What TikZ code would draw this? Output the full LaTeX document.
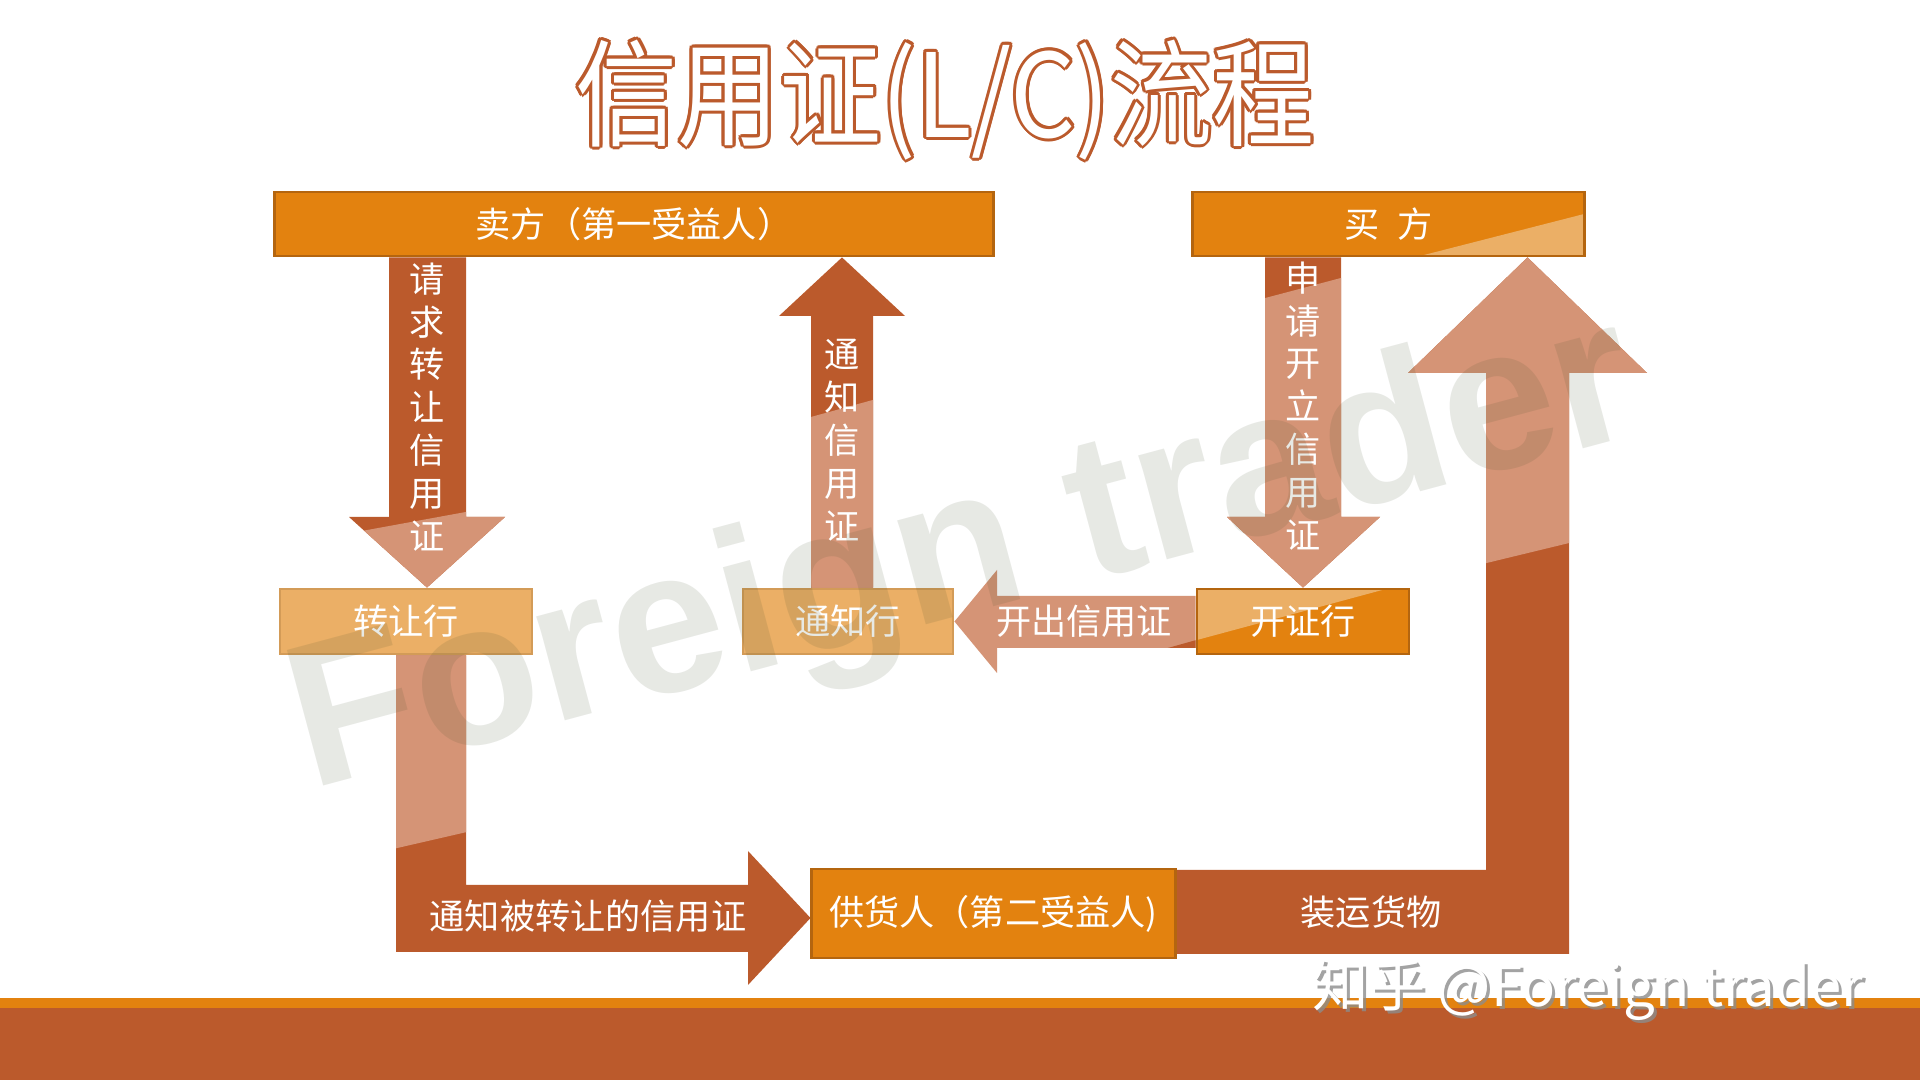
\documentclass[tikz,border=0pt]{standalone}
\usepackage{fontspec}
\newfontfamily\cjk{Noto Sans CJK SC}
\newfontfamily\cjktitle[FakeStretch=0.88]{Noto Sans CJK SC}
\newfontfamily\markfont{Liberation Sans}
\usetikzlibrary{calc,backgrounds}
\definecolor{rust}{HTML}{BB5A2C}
\definecolor{amber}{HTML}{E3820F}
\definecolor{sand}{HTML}{EBAF66}
\definecolor{salmon}{HTML}{D59476}
\definecolor{amberline}{HTML}{B4650F}
\definecolor{sandline}{HTML}{D39B57}
\definecolor{markgray}{RGB}{60,75,40}
\newcommand{\lcfont}{\fontsize{10pt}{12.2pt}\selectfont\cjk}
\tikzset{%
	party/.style     = {draw=amberline, line width=0.8pt, fill=amber, rectangle,
		inner sep=0pt, text=white, font=\lcfont},
	bank/.style      = {draw=sandline, line width=0.8pt, fill=sand, rectangle,
		inner sep=0pt, text=white, font=\lcfont},
	darkarrow/.style = {fill=rust},
	lightarrow/.style= {fill=salmon},
	lbl/.style       = {text=white, font=\lcfont, align=center, inner sep=0pt},
	titletext/.style = {font=\fontsize{33pt}{36pt}\selectfont\cjktitle, inner sep=0pt},
	markbig/.style   = {font=\fontsize{58pt}{64pt}\selectfont\markfont\bfseries,
		text=markgray, text opacity=0.12, inner sep=0pt},
	zhmark/.style    = {font=\fontsize{16pt}{19pt}\selectfont\cjk, inner sep=0pt}
}
\begin{document}
\begin{tikzpicture}[x=0.01cm, y=-0.01cm]
			\useasboundingbox (0,0) rectangle (1920,1080);
			% title
			\foreach \a [count=\i] in {0,30,...,330}
				\node[titletext, text=rust] (halo\i) at ($(945,100)+(\a:3)$) {信用证(L/C)流程};
			\node[titletext, text=white] (title) at (945,100) {信用证(L/C)流程};

			% boxes
			\node[party, minimum width=7.18cm, minimum height=.64cm] (seller) at (634,224) {卖方（第一受益人）};
			\node[party, minimum width=3.91cm, minimum height=.64cm,
				path picture={\fill[sand] ([xshift=-1.64cm]path picture bounding box.south east)
					-- ([yshift=.42cm]path picture bounding box.south east)
					-- (path picture bounding box.south east) -- cycle;}]
				(buyer) at (1388.5,224) {买\hspace{.5em}方};
			\node[bank,  minimum width=2.52cm, minimum height=.65cm] (transfer) at (406,621.5) {转让行};
			\node[bank,  minimum width=2.10cm, minimum height=.65cm] (advising) at (848,621.5) {通知行};
			\node[party, minimum width=2.12cm, minimum height=.65cm,
				path picture={\fill[sand] (path picture bounding box.north west)
					-- ([xshift=1.89cm]path picture bounding box.north west)
					-- ([yshift=-.51cm]path picture bounding box.north west) -- cycle;}]
				(issuing) at (1303,621.5) {开证行};
			\node[party, minimum width=3.63cm, minimum height=.89cm] (supplier) at (993.5,913.5) {供货人（第二受益人)};

			% arrow labels
			\node[lbl] (asktransfer) at (427,407)  {请\\求\\转\\让\\信\\用\\证};
			\node[lbl] (advise)      at (842,440)  {通\\知\\信\\用\\证};
			\node[lbl] (apply)       at (1303,406) {申\\请\\开\\立\\信\\用\\证};
			\node[lbl] (issue)       at (1084,621.5) {开出信用证};
			\node[lbl] (transferred) at (588,916)  {通知被转让的信用证};
			\node[lbl] (ship)        at (1371,912) {装运货物};

			\begin{scope}[on background layer]
				\fill[white] (0,0) rectangle (1920,1080);
				\fill[amber] (0,998) rectangle (1920,1008);
				\fill[rust]  (0,1008) rectangle (1920,1080);

				\path[darkarrow, path picture={\fill[salmon] (340,535) -- (515,503) -- (515,600) -- (340,600) -- cycle;}]
					(389,0 |- seller.south) -- (466,0 |- seller.south) -- (466,517) -- (505,517)
					-- (427,0 |- transfer.north) -- (349,517) -- (389,517) -- cycle;
				\path[darkarrow, path picture={\fill[salmon] (800,420) -- (880,398) -- (880,600) -- (800,600) -- cycle;}]
					(811,0 |- advising.north) -- (811,316) -- (779,316) -- (842,0 |- seller.south)
					-- (905,316) -- (873,316) -- (873,0 |- advising.north) -- cycle;
				\path[darkarrow, path picture={\fill[salmon] (1220,310) -- (1390,265) -- (1390,600) -- (1220,600) -- cycle;}]
					(1265,0 |- buyer.south) -- (1341,0 |- buyer.south) -- (1341,517) -- (1380,517)
					-- (1303,0 |- issuing.north) -- (1227,517) -- (1265,517) -- cycle;
				\path[lightarrow, path picture={\fill[rust] (1150,653) -- (1200,639) -- (1200,660) -- (1150,660) -- cycle;}]
					(issuing.west |- 0,596) -- (997,596) -- (997,570) -- (advising.east)
					-- (997,673) -- (997,648) -- (issuing.west |- 0,648) -- cycle;
				\path[darkarrow, path picture={\fill[salmon] (1400,584) -- (1660,521) -- (1660,250) -- (1400,250) -- cycle;}]
					(supplier.east |- 0,870) -- (1486,870) -- (1486,373) -- (1408,373)
					-- (1527.5,0 |- buyer.south) -- (1647,373) -- (1569,373) -- (1569,954)
					-- (supplier.east |- 0,954) -- cycle;
				\path[darkarrow, path picture={\fill[salmon] (380,852) -- (480,829) -- (480,640) -- (380,640) -- cycle;}]
					(396,0 |- transfer.south) -- (466,0 |- transfer.south) -- (466,885) -- (748,885)
					-- (748,851) -- (supplier.west |- 0,918) -- (748,985) -- (748,952) -- (396,952) -- cycle;
			\end{scope}

			% watermarks
			\node[markbig, rotate=15] (watermark) at (965,560) {Foreign trader};
			\node[zhmark, text=black!45, text opacity=.8] (zhshadow) at (1591,993) {知乎 @Foreign trader};
			\node[zhmark, text=white] (zhihu) at (1588,990) {知乎 @Foreign trader};
		\end{tikzpicture}
\end{document}
